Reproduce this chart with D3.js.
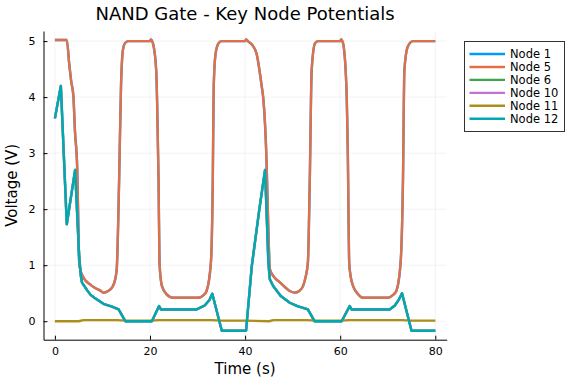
<!DOCTYPE html>
<html>
<head>
<meta charset="utf-8">
<script src="https://cdn.jsdelivr.net/npm/d3@7"></script>
<style>
  body { margin: 0; background: #fff; }
  svg { font-family: "DejaVu Sans", sans-serif; }
</style>
</head>
<body>
<div id="chart"></div>
<script>
// values
var xTicks = [0, 20, 40, 60, 80];
var yTicks = [0, 1, 2, 3, 4, 5];
var seriesNames = ["Node 1", "Node 5", "Node 6", "Node 10", "Node 11", "Node 12"];
var seriesColors = ["#009AFA", "#E36F47", "#3EA44E", "#C371D2", "#AC8E18", "#00A9AD"];

// Node 5 (Node 1 lies right under it)
var t5 = [0, 2.5, 3.0, 3.4, 3.9, 4.2, 4.7, 5.0, 5.1, 5.4, 5.8, 6.5, 7.5, 8.3, 9.5, 10.2, 11.2, 12.0, 12.6, 13.0, 13.5, 13.9, 14.3, 14.8, 15.5,
          20.0, 20.2, 20.7, 21.3, 21.5, 21.8, 22.0, 22.5, 23.5, 24.9, 30.2, 31.2, 31.9, 32.8, 33.2, 33.4, 33.8, 34.4, 35.0,
          40.0, 40.2, 40.7, 41.6, 42.4, 43.5, 43.8, 44.5, 44.9, 45.2, 46.0, 47.5, 49.4, 50.4, 51.4, 52.2, 52.7, 53.2, 53.6, 54.0, 54.7, 55.3,
          60.0, 60.2, 60.6, 61.3, 61.6, 61.9, 62.2, 62.7, 63.6, 64.8, 70.0, 71.0, 71.8, 72.7, 73.2, 73.5, 74.2, 75.3, 80.0];
var v5 = [5.02, 5.02, 4.6, 4.3, 4.0, 3.42, 2.7, 1.4, 1.05, 0.9, 0.81, 0.72, 0.65, 0.6, 0.55, 0.51, 0.54, 0.6, 0.72, 0.93, 2.5, 4.19, 4.84, 4.97, 5.0,
          5.0, 5.03, 4.93, 4.48, 3.9, 2.5, 1.04, 0.63, 0.48, 0.42, 0.42, 0.46, 0.54, 1.04, 2.5, 4.19, 4.78, 4.96, 5.0,
          5.0, 5.03, 4.99, 4.92, 4.78, 4.19, 4.0, 2.88, 1.6, 0.93, 0.8, 0.68, 0.54, 0.51, 0.54, 0.63, 0.78, 1.04, 2.5, 4.48, 4.96, 5.0,
          5.0, 5.03, 4.96, 4.19, 3.0, 1.04, 0.8, 0.63, 0.5, 0.42, 0.42, 0.46, 0.54, 1.04, 2.5, 4.48, 4.9, 5.0, 5.0];

// Node 12 (Node 6 and Node 10 lie right under it)
var t12 = [0, 1.25, 2.5, 4.25, 5.1, 5.45, 5.7, 6.8, 7.5, 8.3, 10.2, 12.0, 13.4, 14.8, 20.4, 21.9, 22.3, 29.8, 31.5, 32.5, 33.1, 35.1,
           40.2, 41.4, 43.0, 44.2, 44.9, 45.2, 45.9, 47.5, 49.4, 51.0, 53.2, 54.6, 60.3, 62.0, 62.4, 70.4, 71.5, 72.3, 73.0, 75.0, 80.0];
var v12 = [3.62, 4.2, 1.73, 2.7, 1.16, 0.81, 0.69, 0.55, 0.47, 0.42, 0.31, 0.26, 0.21, 0.0, 0.0, 0.27, 0.21, 0.21, 0.28, 0.38, 0.49, -0.17,
           -0.17, 0.98, 2.0, 2.7, 1.04, 0.75, 0.63, 0.45, 0.33, 0.27, 0.21, 0.0, 0.0, 0.27, 0.21, 0.21, 0.28, 0.38, 0.5, -0.17, -0.17];

// Node 11
var t11 = [0, 5, 6, 13, 15, 20, 22, 33, 35, 40, 45, 46, 53, 55, 60, 62, 73, 75, 80];
var v11 = [0.0, 0.0, 0.02, 0.02, 0.01, 0.01, 0.02, 0.02, 0.01, 0.01, 0.0, 0.02, 0.02, 0.01, 0.01, 0.02, 0.02, 0.01, 0.01];

var width = 576, height = 384;
var margin = {left: 43.5, right: 129.3, top: 31, bottom: 44.3};

var series = [
  {name: seriesNames[0], color: seriesColors[0], t: t5, v: v5, smooth: true},
  {name: seriesNames[1], color: seriesColors[1], t: t5, v: v5, smooth: true},
  {name: seriesNames[2], color: seriesColors[2], t: t12, v: v12},
  {name: seriesNames[3], color: seriesColors[3], t: t12, v: v12},
  {name: seriesNames[4], color: seriesColors[4], t: t11, v: v11},
  {name: seriesNames[5], color: seriesColors[5], t: t12, v: v12}
];

var svg = d3.select("#chart").append("svg")
  .attr("width", width)
  .attr("height", height);

var x = d3.scaleLinear().domain([-2.4, 82.4]).range([margin.left, width - margin.right]);
var y = d3.scaleLinear().domain([-0.33, 5.18]).range([height - margin.bottom, margin.top]);

// grid
svg.append("g").selectAll("line").data(xTicks).enter().append("line")
  .attr("x1", function(d){ return x(d); }).attr("x2", function(d){ return x(d); })
  .attr("y1", margin.top).attr("y2", height - margin.bottom)
  .style("stroke", "#000").style("stroke-opacity", 0.1).style("stroke-width", "0.5px");
svg.append("g").selectAll("line").data(yTicks).enter().append("line")
  .attr("y1", function(d){ return y(d); }).attr("y2", function(d){ return y(d); })
  .attr("x1", margin.left).attr("x2", width - margin.right)
  .style("stroke", "#000").style("stroke-opacity", 0.1).style("stroke-width", "0.5px");

// axes
var xAxis = svg.append("g")
  .attr("transform", "translate(0," + (height - margin.bottom) + ")")
  .call(d3.axisBottom(x).tickValues(xTicks).tickFormat(d3.format("d")).tickSizeInner(-4).tickSizeOuter(0).tickPadding(8));
var yAxis = svg.append("g")
  .attr("transform", "translate(" + margin.left + ",0)")
  .call(d3.axisLeft(y).tickValues(yTicks).tickFormat(d3.format("d")).tickSizeInner(-4).tickSizeOuter(0).tickPadding(8));
[xAxis, yAxis].forEach(function(a){
  a.select(".domain").style("stroke", "#000").style("stroke-width", "1px");
  a.selectAll(".tick line").style("stroke", "#000");
  a.selectAll(".tick text").style("font-family", "DejaVu Sans").style("font-size", "11px").style("fill", "#000");
});

// lines
var lineSharp = d3.line()
  .x(function(d){ return x(d[0]); })
  .y(function(d){ return y(d[1]); });
var lineSmooth = d3.line()
  .curve(d3.curveMonotoneX)
  .x(function(d){ return x(d[0]); })
  .y(function(d){ return y(d[1]); });

series.forEach(function(s){
  var pts = s.t.map(function(t, i){ return [t, s.v[i]]; });
  svg.append("path")
    .datum(pts)
    .attr("d", s.smooth ? lineSmooth : lineSharp)
    .style("fill", "none")
    .style("stroke", s.color)
    .style("stroke-width", "2.4px")
    .style("stroke-linejoin", "round");
});

// title and labels
svg.append("text")
  .attr("x", (margin.left + width - margin.right) / 2)
  .attr("y", 20)
  .attr("text-anchor", "middle")
  .style("font-size", "18px")
  .text("NAND Gate - Key Node Potentials");

svg.append("text")
  .attr("x", (margin.left + width - margin.right) / 2)
  .attr("y", 374)
  .attr("text-anchor", "middle")
  .style("font-size", "15px")
  .text("Time (s)");

svg.append("text")
  .attr("transform", "translate(17," + ((margin.top + height - margin.bottom) / 2) + ") rotate(-90)")
  .attr("text-anchor", "middle")
  .style("font-size", "15px")
  .text("Voltage (V)");

// legend
var legend = svg.append("g");
legend.append("rect")
  .attr("x", 464.5).attr("y", 41.5)
  .attr("width", 100).attr("height", 90)
  .style("fill", "#fff").style("stroke", "#333").style("stroke-width", "1px");
series.forEach(function(s, i){
  var ly = 54 + i * 12.95;
  legend.append("line")
    .attr("x1", 469.5).attr("x2", 505)
    .attr("y1", ly).attr("y2", ly)
    .style("stroke", s.color).style("stroke-width", "2.4px");
  legend.append("text")
    .attr("x", 510).attr("y", ly + 4)
    .style("font-size", "11.5px")
    .text(s.name);
});
</script>
</body>
</html>
